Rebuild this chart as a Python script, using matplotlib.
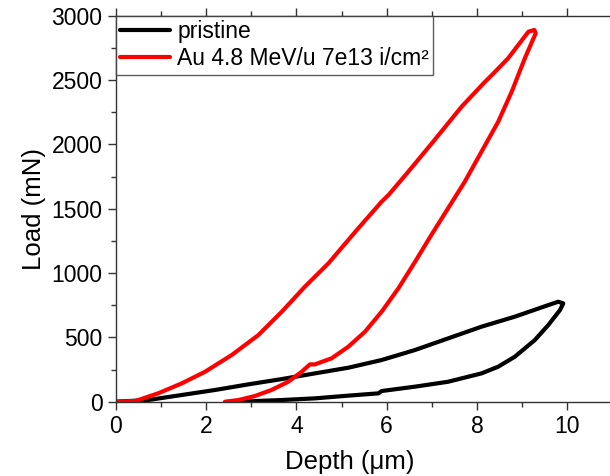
import matplotlib
matplotlib.use("Agg")
import matplotlib.pyplot as plt
from matplotlib.ticker import MultipleLocator

plt.rcParams['font.family'] = ['Liberation Sans', 'DejaVu Sans']

# pristine: loading then unloading (depth in um, load in mN)
pristine_depth = [0.0, 0.72, 1.46, 2.2, 2.94, 3.68, 4.41, 5.15, 5.89, 6.63, 7.36,
                  8.10, 8.84, 9.58, 9.80, 9.91,
                  9.84, 9.58, 9.28, 8.84, 8.47, 8.10, 7.36, 6.63, 5.89, 5.82,
                  5.15, 4.41, 3.68, 3.08, 2.79]
pristine_load = [0, 13, 52, 91, 135, 176, 220, 264, 324, 402, 492,
                 583, 661, 751, 777, 764,
                 713, 596, 479, 350, 272, 220, 155, 117, 83, 65,
                 47, 26, 13, 5, 0]

# Au 4.8 MeV/u 7e13 i/cm2: loading then unloading
au_depth = [0.0, 0.43, 0.94, 1.46, 1.98, 2.57, 3.16, 3.68, 4.19, 4.71, 4.93,
            5.37, 5.89, 6.04, 6.48, 7.0, 7.66, 8.18, 8.33, 8.69, 9.14, 9.27,
            9.30, 9.06, 8.77, 8.47, 8.10, 7.73, 7.36, 6.99, 6.63, 6.26, 5.89,
            5.52, 5.15, 4.78, 4.41, 4.30, 4.12, 3.82, 3.45, 3.08, 2.72, 2.42]
au_load = [0, 5, 65, 142, 233, 363, 518, 700, 894, 1075, 1166,
           1347, 1555, 1606, 1788, 2008, 2293, 2487, 2539, 2669, 2876, 2889,
           2863, 2669, 2410, 2176, 1943, 1710, 1503, 1296, 1088, 881, 700,
           544, 427, 337, 290, 290, 233, 155, 91, 44, 13, 0]

labels = ["pristine", "Au 4.8 MeV/u 7e13 i/cm\u00b2"]
colors = ["black", "#ff0000"]

fig = plt.figure(figsize=(6.10, 4.76), dpi=100)
ax = fig.add_axes([115.7 / 610, 1 - 401.7 / 476, (11 * 45.16) / 610, (401.7 - 15.7) / 476])

ax.plot(pristine_depth, pristine_load, color=colors[0], lw=3, label=labels[0],
        solid_joinstyle='round', solid_capstyle='round')
ax.plot(au_depth, au_load, color=colors[1], lw=3, label=labels[1],
        solid_joinstyle='round', solid_capstyle='round')

ax.set_xlim(0, 11)
ax.set_ylim(0, 3000)
ax.xaxis.set_major_locator(MultipleLocator(2))
ax.xaxis.set_minor_locator(MultipleLocator(1))
ax.yaxis.set_major_locator(MultipleLocator(500))
ax.yaxis.set_minor_locator(MultipleLocator(250))
ax.tick_params(which='both', direction='out', top=True, right=True,
               labelsize=16.5, width=1, color='#333333')
ax.tick_params(which='major', length=6)
ax.tick_params(which='minor', length=3.5)
for s in ax.spines.values():
    s.set_linewidth(1)
    s.set_color('#333333')

ax.set_xlabel("Depth (\u03bcm)", fontsize=18.5, labelpad=9)
ax.xaxis.label.set_x(0.472)
ax.set_ylabel("Load (mN)", fontsize=18.5, labelpad=4)

leg = ax.legend(loc='upper left', bbox_to_anchor=(0, 1), borderaxespad=0,
                fontsize=16.5, frameon=True, fancybox=False, handlelength=2.2,
                handletextpad=0.3, borderpad=0.18, labelspacing=0.2)
leg.get_frame().set_edgecolor('#333333')
leg.get_frame().set_linewidth(1)

fig.savefig("out.png", dpi=100)
